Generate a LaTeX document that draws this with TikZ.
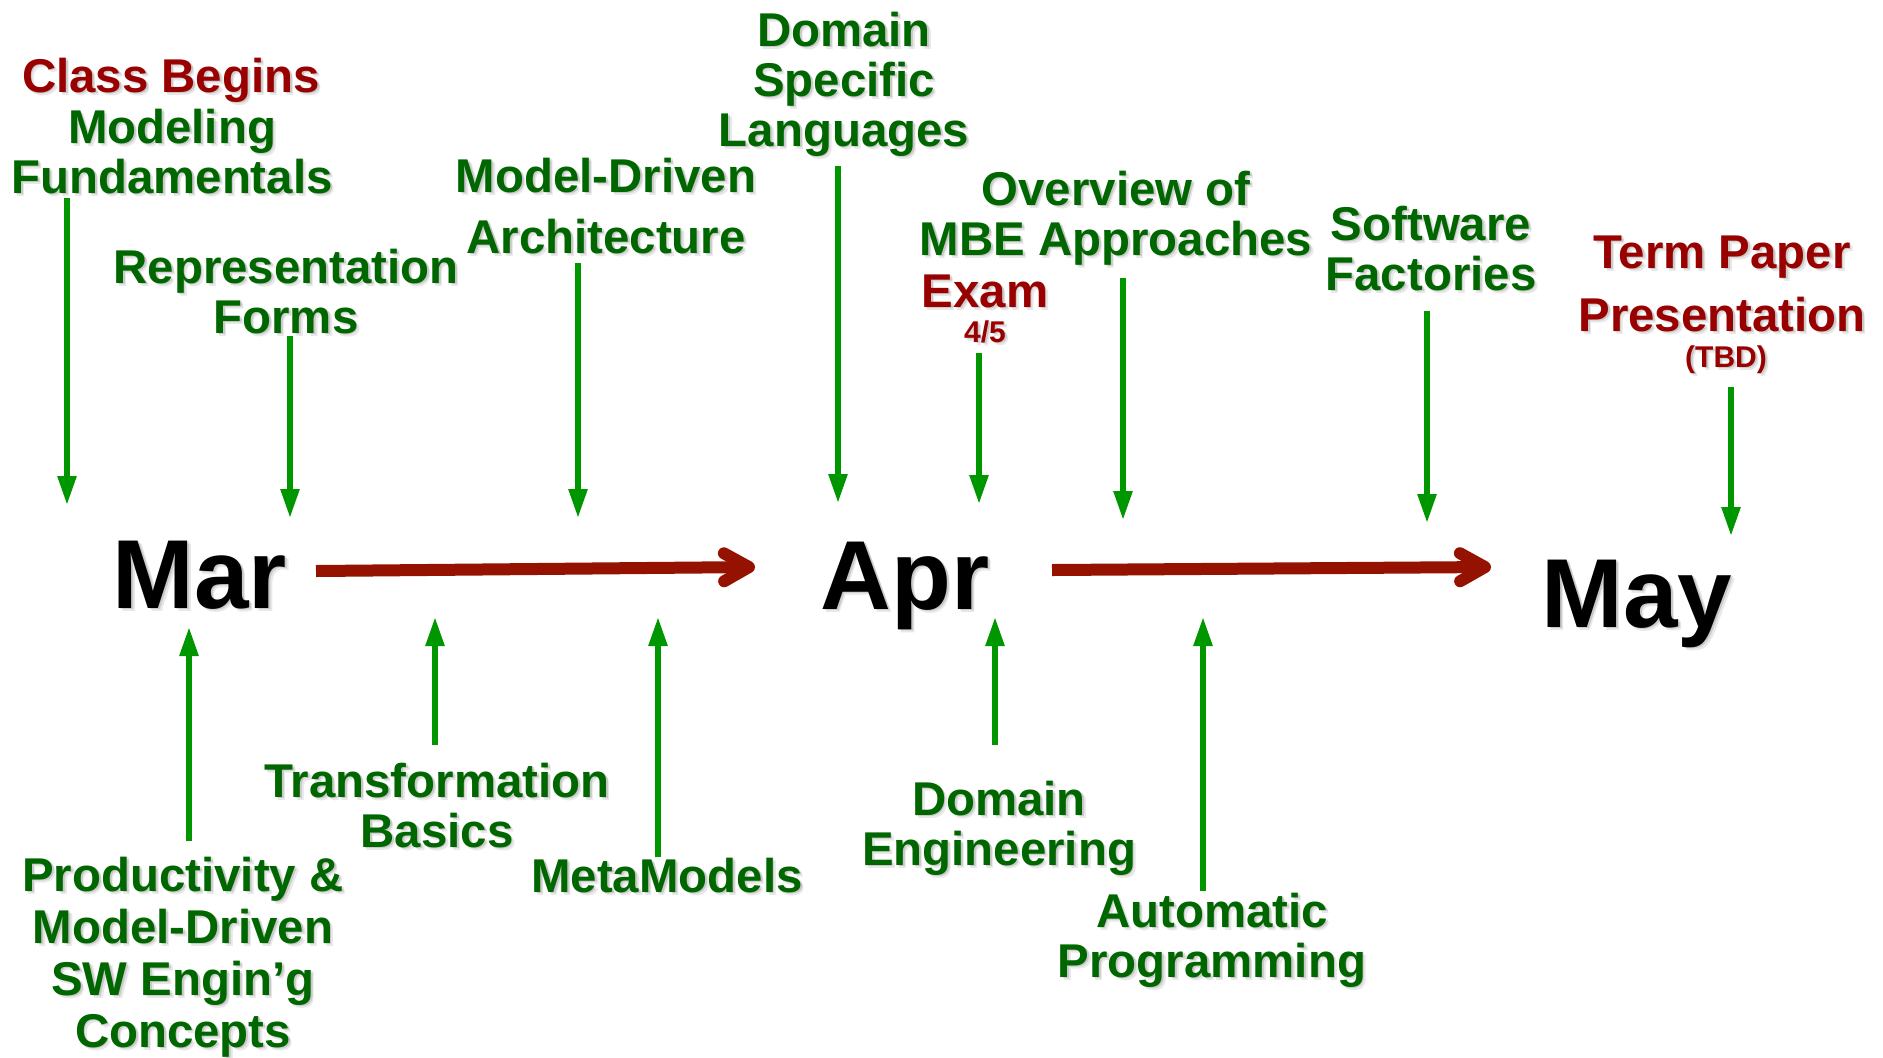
\documentclass[tikz,border=0pt]{standalone}
\usepackage{fontspec}
\setmainfont{Liberation Sans}
\usetikzlibrary{arrows.meta,calc}

\definecolor{labelgreen}{RGB}{0,102,0}
\definecolor{arrowgreen}{RGB}{0,150,0}
\definecolor{labelred}{RGB}{153,0,0}
\definecolor{arrowred}{RGB}{150,18,0}

\tikzset{
  lbl/.style={inner sep=0pt, anchor=base, align=center,
    font=\bfseries\fontsize{23.7}{25}\selectfont},
  glbl/.style={lbl, text=labelgreen},
  rlbl/.style={lbl, text=labelred},
  datelbl/.style={inner sep=0pt, anchor=base,
    font=\bfseries\fontsize{15}{16}\selectfont, text=labelred},
  month/.style={inner sep=0pt, anchor=base,
    font=\bfseries\fontsize{49}{50}\selectfont, text=black},
  garrow/.style={draw=arrowgreen, line width=2.8pt,
    -{Triangle[length=14.5pt,width=9pt]}},
  rarrow/.style={draw=arrowred, line width=6pt,
    -{Straight Barb[length=12.5pt,width=14pt,round]}}
}

% text with a soft drop shadow: #1 name, #2 style, #3 position (baseline of
% the last line), #4 text
\newcommand\shadowed[4]{%
  \node[#2, text=black, text opacity=0.09] (#1-sa) at ($(#3)+(3.2,3.2)$) {#4};
  \node[#2, text=black, text opacity=0.13] (#1-sb) at ($(#3)+(1.8,1.8)$) {#4};
  \node[#2] (#1) at (#3) {#4};
}

\begin{document}
\begin{tikzpicture}[x=0.5pt, y=-0.5pt]
\fill[white] (0,0) rectangle (1883,1057);
\useasboundingbox (0,0) rectangle (1883,1057);

% months on the time line
\shadowed{mar}{month}{200,608}{Mar}
\shadowed{apr}{month}{905,609}{Apr}
\shadowed{may}{month}{1637,627}{May}

% time line
\draw[rarrow] ($(mar.base)+(116,-37)$) -- ($(apr.base)+(-150,-42)$);
\draw[rarrow] ($(apr.base)+(147,-39)$) -- ($(may.base)+(-146,-60)$);

% topics above the line
\shadowed{cb}{rlbl}{171,92}{Class Begins}
\shadowed{fund}{glbl}{172,193}{Modeling\\Fundamentals}
\shadowed{rep}{glbl}{286,333}{Representation\\Forms}
\shadowed{mda}{glbl}{606,253}{Model-Driven\\[5.5pt]Architecture}
\shadowed{dsl}{glbl}{844,146}{Domain\\Specific\\Languages}
\shadowed{mbe}{glbl}{1116,255}{Overview of\\MBE Approaches}
\shadowed{exam}{rlbl}{985,307}{Exam}
\shadowed{examdate}{datelbl}{985,342}{4/5}
\shadowed{sf}{glbl}{1431,290}{Software\\Factories}
\shadowed{term}{rlbl}{1722,331}{Term Paper\\[6.5pt]Presentation}
\shadowed{tbd}{datelbl}{1726,367}{(TBD)}

% topics below the line
\shadowed{prod}{glbl, font=\bfseries\fontsize{23.7}{26}\selectfont}{183,1047}{Productivity \&\\Model-Driven\\SW Engin’g\\Concepts}
\shadowed{trans}{glbl}{437,847}{Transformation\\Basics}
\shadowed{meta}{glbl}{667,892}{MetaModels}
\shadowed{deng}{glbl}{999,865}{Domain\\Engineering}
\shadowed{auto}{glbl}{1212,977}{Automatic\\Programming}

% arrow tips on the time line
\coordinate (t-fund) at (67,505);
\coordinate (t-rep) at (290,518);
\coordinate (t-mda) at (578,518);
\coordinate (t-dsl) at (838,503);
\coordinate (t-exam) at (979,504);
\coordinate (t-mbe) at (1123,520);
\coordinate (t-sf) at (1427,523);
\coordinate (t-term) at (1731,536);
\coordinate (t-prod) at (189,627);
\coordinate (t-trans) at (435,617);
\coordinate (t-meta) at (658,617);
\coordinate (t-deng) at (995,617);
\coordinate (t-auto) at (1203,617);

% pointers down to the line
\draw[garrow] ($(fund.south -| t-fund)+(0,4)$) -- (t-fund);
\draw[garrow] ($(rep.south -| t-rep)+(0,2)$) -- (t-rep);
\draw[garrow] ($(mda.south -| t-mda)+(0,9)$) -- (t-mda);
\draw[garrow] ($(dsl.south -| t-dsl)+(0,10)$) -- (t-dsl);
\draw[garrow] ($(examdate.south -| t-exam)+(0,10)$) -- (t-exam);
\draw[garrow] ($(mbe.south -| t-mbe)+(0,13)$) -- (t-mbe);
\draw[garrow] ($(sf.south -| t-sf)+(0,20)$) -- (t-sf);
\draw[garrow] ($(tbd.south -| t-term)+(0,13)$) -- (t-term);

% pointers up to the line
\draw[garrow] ($(prod.north -| t-prod)+(0,-15)$) -- (t-prod);
\draw[garrow] ($(trans.north -| t-trans)+(0,-17)$) -- (t-trans);
\draw[garrow] ($(meta.north -| t-meta)+(0,0)$) -- (t-meta);
\draw[garrow] ($(deng.north -| t-deng)+(0,-35)$) -- (t-deng);
\draw[garrow] ($(auto.north -| t-auto)+(0,-1)$) -- (t-auto);
\end{tikzpicture}
\end{document}
